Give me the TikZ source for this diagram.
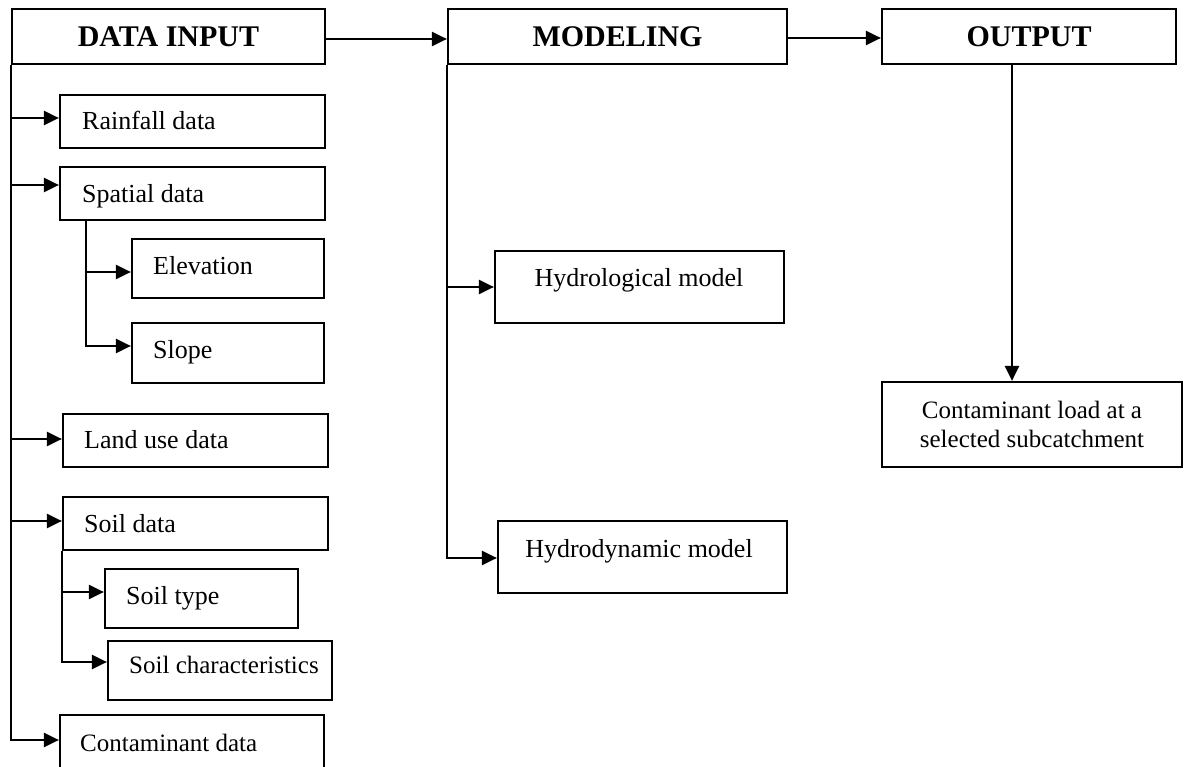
\documentclass[tikz,border=0pt]{standalone}
\usepackage{fontspec}
\setmainfont{Liberation Serif}
\usetikzlibrary{arrows.meta,fit}
\begin{document}
\begin{tikzpicture}[x=1pt,y=-1pt,
  box/.style={draw, line width=2.2pt, inner sep=0pt},
  conn/.style={line width=2.4pt},
  arr/.style={conn, -{Triangle[length=15pt,width=14pt]}},
  head/.style={font=\fontsize{30}{34}\selectfont\bfseries, inner sep=0pt, anchor=base},
  lbl/.style={font=\fontsize{26}{30}\selectfont, inner sep=0pt, anchor=base west},
  lbls/.style={font=\fontsize{25}{30}\selectfont, inner sep=0pt, anchor=base west},
  clbl/.style={font=\fontsize{26}{30}\selectfont, inner sep=0pt, anchor=base},
  clbls/.style={font=\fontsize{25}{30}\selectfont, inner sep=0pt, anchor=base}]
\clip (0,0) rectangle (1187,767);
\fill[white] (0,0) rectangle (1187,767);
% top row
\node[box, fit={(12,9)(325,64)}] (di) {};
\node[head] (dit) at (168.5,47) {DATA INPUT};
\node[box, fit={(448,9)(787,64)}] (mod) {};
\node[head] (modt) at (617.5,47) {MODELING};
\node[box, fit={(882,9)(1176,64)}] (out) {};
\node[head] (outt) at (1029,47) {OUTPUT};
% data input children
\node[box, fit={(60,95)(325,148)}] (rain) {};
\node[lbl] (raint) at (82,130) {Rainfall data};
\node[box, fit={(60,167)(325,220)}] (spat) {};
\node[lbl] (spatt) at (82,203) {Spatial data};
\node[box, fit={(132,239)(324,298)}] (elev) {};
\node[lbl] (elevt) at (153,275) {Elevation};
\node[box, fit={(132,323)(324,383)}] (slope) {};
\node[lbl] (slopet) at (153,359) {Slope};
\node[box, fit={(63,414)(328,467)}] (land) {};
\node[lbl] (landt) at (84,449) {Land use data};
\node[box, fit={(63,497)(328,550)}] (soil) {};
\node[lbl] (soilt) at (84,532) {Soil data};
\node[box, fit={(105,569)(298,628)}] (stype) {};
\node[lbl] (stypet) at (126,604) {Soil type};
\node[box, fit={(108,641)(332,700)}] (schar) {};
\node[lbls] (schart) at (129,673) {Soil characteristics};
\node[box, fit={(60,715)(324,775)}] (cont) {};
\node[lbls] (contt) at (80,751) {Contaminant data};
% modeling children
\node[box, fit={(495,251)(784,323)}] (hyd) {};
\node[clbl] (hydt) at (639,287) {Hydrological model};
\node[box, fit={(498,521)(787,593)}] (hdyn) {};
\node[clbl] (hdynt) at (639,557) {Hydrodynamic model};
% output child
\node[box, fit={(882,382)(1182,467)}] (load) {};
\node[clbls] (loadt1) at (1032,418) {Contaminant load at a};
\node[clbls] (loadt2) at (1032,448) {selected subcatchment};
% connectors top
\draw[arr] ([yshift=-2.5pt]di.east) -- ([yshift=-2.5pt]mod.west);
\draw[arr] ([yshift=-1.5pt]mod.east) -- ([yshift=-1.5pt]out.west);
\coordinate (od) at ([xshift=-17pt]out.south);
\draw[arr] (od) -- (od |- load.north);
% data input trunk
\draw[arr] (di.south west) |- ([yshift=5pt]cont.west);
\draw[arr] ([yshift=3.5pt]di.south west |- rain.west) -- ([yshift=3.5pt]rain.west);
\draw[arr] ([yshift=8.5pt]di.south west |- spat.west) -- ([yshift=8.5pt]spat.west);
\draw[arr] ([yshift=1.5pt]di.south west |- land.west) -- ([yshift=1.5pt]land.west);
\draw[arr] ([yshift=2.5pt]di.south west |- soil.west) -- ([yshift=2.5pt]soil.west);
% spatial subtrunk
\coordinate (sp) at ([xshift=27pt]spat.south west);
\draw[arr] (sp) |- ([yshift=7pt]slope.west);
\draw[arr] ([yshift=-3.5pt]sp |- elev.west) -- ([yshift=-3.5pt]elev.west);
% soil subtrunk
\draw[arr] (soil.south west) |- ([yshift=8.5pt]schar.west);
\draw[arr] ([yshift=6.5pt]soil.south west |- stype.west) -- ([yshift=6.5pt]stype.west);
% modeling trunk
\draw[arr] (mod.south west) |- ([yshift=-1pt]hdyn.west);
\draw[arr] (mod.south west |- hyd.west) -- (hyd.west);
\end{tikzpicture}
\end{document}
